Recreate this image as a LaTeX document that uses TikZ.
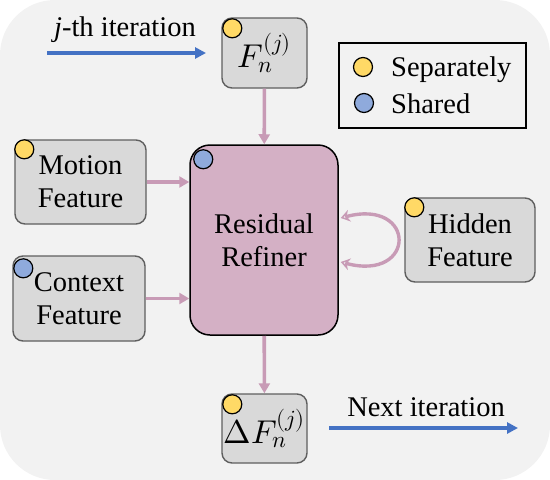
\documentclass[tikz,border=0pt]{standalone}
\usepackage{fontspec}
\usepackage{unicode-math}
\setmainfont{Liberation Serif}
\setmathfont{Latin Modern Math}
\usetikzlibrary{arrows.meta,positioning}

\definecolor{bggray}{HTML}{F2F2F2}
\definecolor{boxgray}{HTML}{D9D9D9}
\definecolor{boxedge}{HTML}{5F5F5F}
\definecolor{refpink}{HTML}{D4B0C5}
\definecolor{mauve}{HTML}{C89BB6}
\definecolor{iterblue}{HTML}{4472C4}
\definecolor{sepyellow}{HTML}{FFD966}
\definecolor{shrblue}{HTML}{8FAADC}

\begin{document}
\begin{tikzpicture}[x=1pt,y=-1pt,font=\fontsize{28.5}{33}\selectfont,
  feat/.style={draw=boxedge,fill=boxgray,line width=1.4pt,rounded corners=10pt,
    align=center,inner sep=0pt},
  refiner/.style={draw=black,fill=refpink,line width=1.5pt,rounded corners=20pt,
    align=center,inner sep=0pt,minimum width=148pt,minimum height=190pt},
  dot/.style={circle,draw=black,line width=1.2pt,fill=#1,minimum size=19pt,inner sep=0pt},
  pipe/.style={-{Triangle[length=10pt,width=11pt]},draw=mauve,line width=3.6pt},
  iter/.style={-{Triangle[length=11pt,width=11pt]},draw=iterblue,line width=3.2pt}]
  % background panel
  \fill[bggray,rounded corners=55pt] (0,0) rectangle (550,480);

  % main refiner and its inputs
  \node[refiner] (ref) at (264,240) {Residual\\Refiner};
  \node[feat,minimum width=85pt,minimum height=70pt] (F) at (264.5,53)
    {\fontsize{33}{36}\selectfont$F_n^{(j)}$};
  \node[feat,minimum width=131pt,minimum height=84pt] (motion) at (80.5,182) {Motion\\Feature};
  \node[feat,minimum width=132pt,minimum height=85pt] (context) at (79,298.5) {Context\\Feature};
  \node[feat,minimum width=130pt,minimum height=84pt] (hidden) at (470,240) {Hidden\\Feature};
  \node[feat,minimum width=85pt,minimum height=69pt] (dF) at (264.5,428.5)
    {\fontsize{33}{36}\selectfont$\Delta F_n^{(j)}$};

  % sharing markers
  \node[dot=sepyellow] (Fdot) at ([shift={(11,11)}]F.north west) {};
  \node[dot=shrblue] (refdot) at ([shift={(14,15)}]ref.north west) {};
  \node[dot=sepyellow] (motiondot) at ([shift={(10,10)}]motion.north west) {};
  \node[dot=shrblue] (contextdot) at ([shift={(11,13)}]context.north west) {};
  \node[dot=sepyellow] (hiddendot) at ([shift={(10,10)}]hidden.north west) {};
  \node[dot=sepyellow] (dFdot) at ([shift={(11,11)}]dF.north west) {};

  % legend
  \node[draw=black,line width=1.5pt,minimum width=187pt,minimum height=85pt] (legend) at (432.5,85.5) {};
  \node[dot=sepyellow] (sepdot) at (363,67) {};
  \node[dot=shrblue] (shrdot) at (364,103) {};
  \node[anchor=base west,inner sep=0pt] (seplbl) at (391,76) {Separately};
  \node[anchor=base west,inner sep=0pt] (shrlbl) at (391,113) {Shared};

  % flow into and out of the refiner
  \draw[pipe] (F) -- (ref);
  \draw[pipe] (motion) -- (motion -| ref.west);
  \draw[pipe] (context) -- (context -| ref.west);
  \draw[pipe] (ref) -- (dF);
  \draw[draw=mauve,line width=3.4pt,{Stealth[length=9pt,width=12pt,open]}-{Stealth[length=9pt,width=12pt,open]}]
    ([xshift=2pt,yshift=22pt]ref.east) .. controls +(76,-20) and +(76,20) .. ([xshift=2pt,yshift=-22pt]ref.east);

  % iteration arrows
  \node (jlbl) at (125,30) {\textit{j}-th iteration};
  \coordinate (jstart) at (47,53);
  \coordinate (jend) at (206,53);
  \draw[iter] (jstart) -- (jend);
  \node (nlbl) at (426,407) {Next iteration};
  \coordinate (nstart) at (329,428);
  \coordinate (nend) at (518,428);
  \draw[iter] (nstart) -- (nend);
\end{tikzpicture}
\end{document}
